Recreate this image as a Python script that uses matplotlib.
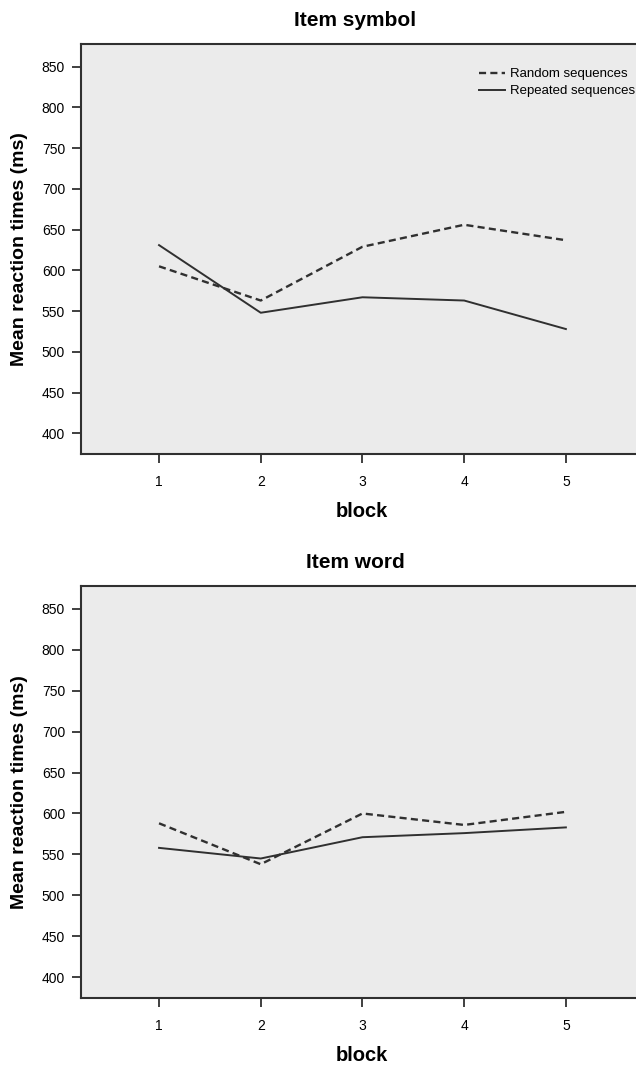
import matplotlib
matplotlib.use('Agg')
import matplotlib.pyplot as plt
from matplotlib import rcParams

rcParams['font.family'] = ['Liberation Sans', 'DejaVu Sans']

# 数据
blocks = [1, 2, 3, 4, 5]
symbol_random = [605, 563, 629, 656, 637]
symbol_repeated = [631, 548, 567, 563, 528]
word_random = [588, 538, 600, 586, 602]
word_repeated = [558, 545, 571, 576, 583]
y_ticks = [400, 450, 500, 550, 600, 650, 700, 750, 800, 850]

line_col = '#303030'
bg_col = '#ebebeb'


def style_axes(ax, title):
    ax.set_facecolor(bg_col)
    ax.set_xlim(0.233, 5.767)
    ax.set_ylim(374.6, 877.9)
    ax.set_xticks(blocks)
    ax.set_yticks(y_ticks)
    ax.tick_params(axis='x', direction='out', length=6.5, width=1.3,
                   color=line_col, labelsize=10, pad=8.5)
    ax.tick_params(axis='y', direction='out', length=6.5, width=1.3,
                   color=line_col, labelsize=10, pad=5)
    for side in ['left', 'bottom', 'top']:
        ax.spines[side].set_linewidth(1.5)
        ax.spines[side].set_color(line_col)
    ax.spines['right'].set_visible(False)
    ax.set_title(title, fontsize=15, fontweight='bold', x=0.487, y=1.044,
                 pad=0, va='baseline')
    ax.set_xlabel('block', fontsize=14.5, fontweight='bold')
    ax.xaxis.set_label_coords(0.499, -0.117)
    ax.set_ylabel('Mean reaction times (ms)', fontsize=14, fontweight='bold')
    ax.yaxis.set_label_coords(-0.094, 0.5)


fig = plt.figure(figsize=(6.36, 10.65), dpi=100)
ax1 = fig.add_axes([0.1274, 0.5737, 0.885, 0.385])
ax2 = fig.add_axes([0.1274, 0.0629, 0.885, 0.3869])

# 上图：Item symbol
ax1.plot(blocks, symbol_random, color=line_col, lw=1.7,
         linestyle=(0, (3, 1.8)), label='Random sequences')
ax1.plot(blocks, symbol_repeated, color=line_col, lw=1.4,
         label='Repeated sequences')
style_axes(ax1, 'Item symbol')
ax1.legend(loc='upper left', bbox_to_anchor=(0.7531, 0.9362),
           bbox_transform=fig.transFigure, frameon=False, fontsize=9.5,
           borderpad=0, borderaxespad=0, handlelength=1.97,
           handletextpad=0.38, labelspacing=0.38)

# 下图：Item word
ax2.plot(blocks, word_random, color=line_col, lw=1.7,
         linestyle=(0, (3, 1.8)))
ax2.plot(blocks, word_repeated, color=line_col, lw=1.4)
style_axes(ax2, 'Item word')

fig.savefig('out.png', dpi=100, facecolor='white')
